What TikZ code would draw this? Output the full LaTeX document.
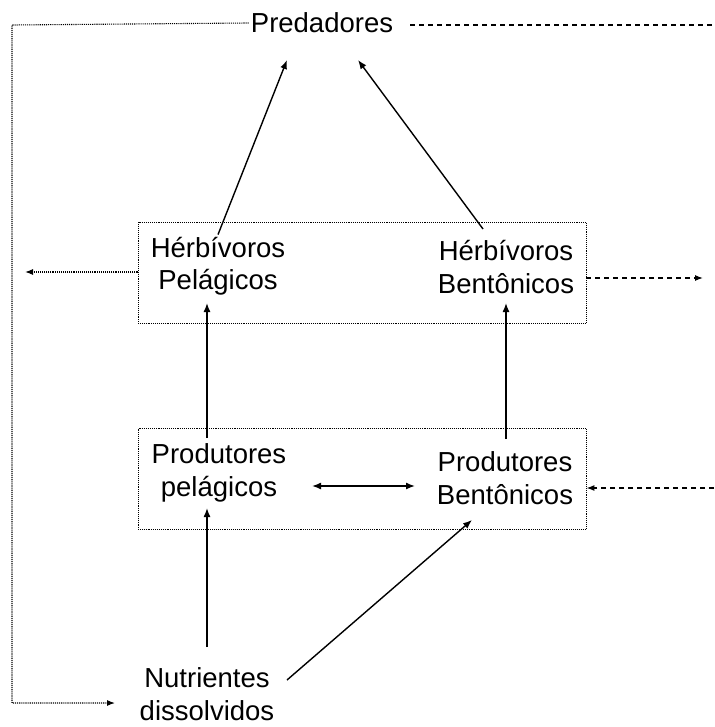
\documentclass[tikz,border=0pt]{standalone}
\usepackage{fontspec}
\setmainfont{Liberation Sans}
\usetikzlibrary{positioning,arrows.meta}

\begin{document}
\begin{tikzpicture}[
	x=1pt, y=-1pt,
	txtnode/.style={align=center, inner sep=2pt, font=\fontsize{27.5}{32.5}\selectfont},
	boxnode/.style={draw, densely dotted, line width=0.9pt, minimum width=448pt, minimum height=101pt},
	arr/.style={line width=1.4pt, -{Latex[length=9pt,width=7pt]}},
	dotarr/.style={densely dotted, line width=1.1pt, -{Latex[length=8pt,width=6pt]}},
	dasharr/.style={dash pattern=on 5pt off 4pt, line width=1.2pt, -{Latex[length=8pt,width=6pt]}},
	]
	\useasboundingbox (0,0) rectangle (714,727);
	%Boxes
	\node[boxnode] (hbox) at (362,272.5) {};
	\node[boxnode] (pbox) at (362,478.5) {};
	%Nodes
	\node[txtnode] (pred) at (322,23)  {Predadores};
	\node[txtnode] (hpel) at (218,266) {Hérbívoros\\Pelágicos};
	\node[txtnode] (hben) at (506,267) {Hérbívoros\\Bentônicos};
	\node[txtnode] (ppel) at (219,473) {Produtores\\pelágicos};
	\node[txtnode] (pben) at (505,478) {Produtores\\Bentônicos};
	\node[txtnode] (nut)  at (207,694) {Nutrientes\\dissolvidos};
	%Free ends
	\coordinate (predL) at (287,60);
	\coordinate (predR) at (358,60);
	\coordinate (corTL) at (12,25);
	\coordinate (corBL) at (12,703);
	\coordinate (outL)  at (25,272);
	\coordinate (outR)  at (703,278);
	\coordinate (inR)   at (714,488);
	\coordinate (endR)  at (714,25);

	%Lines
	\draw[arr] (hpel.north) -- (predL);
	\draw[arr] (483,229) -- (predR);
	\draw[arr] (207,438) -- (207,303);
	\draw[arr] (506,439) -- (506,303);
	\draw[arr] (207,647) -- (207,508);
	\draw[arr] (287,680) -- (472,520);
	\draw[line width=1.4pt, {Latex[length=9pt,width=7pt]}-{Latex[length=9pt,width=7pt]}] (312,486) -- (415,486);

	\draw[dotarr] (pred.west) -- (corTL) -- (corBL) -- (115,703);
	\draw[dotarr] (hbox.west |- outL) -- (outL);
	\draw[dash pattern=on 5pt off 4pt, line width=1.2pt] (410,25) -- (endR);
	\draw[dasharr] (hbox.east |- outR) -- (outR);
	\draw[dasharr] (inR) -- (pbox.east |- inR);
\end{tikzpicture}
\end{document}
